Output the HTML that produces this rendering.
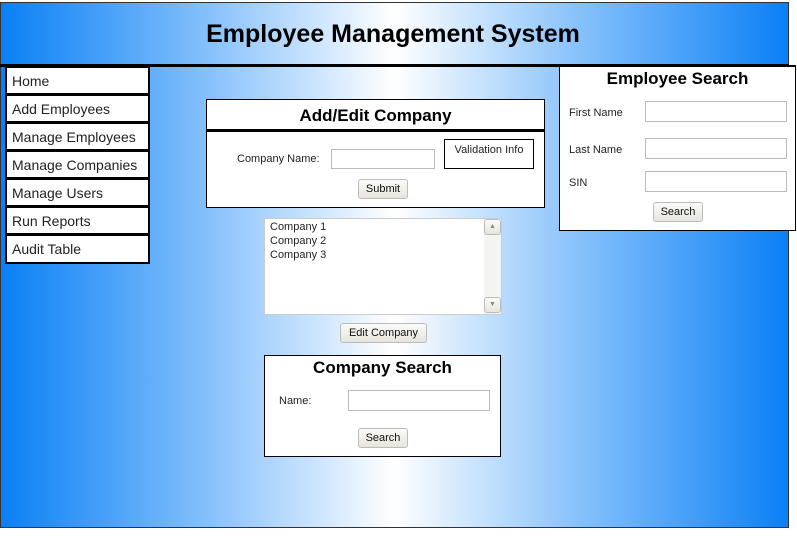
<!DOCTYPE html>
<html><head><style>
*{box-sizing:border-box;margin:0;padding:0}
body{width:797px;height:538px;background:#fff;position:relative;overflow:hidden;font-family:"Liberation Sans",Arial,sans-serif;}
.a{position:absolute}
#bg{left:0;top:2px;width:789px;height:526px;border:1px solid #333;background:linear-gradient(to right,#0a80f5 0%,#7fbdfb 25%,#fff 50%,#7fbdfb 75%,#0a80f5 100%);}
h1{position:absolute;left:0;width:786px;top:20px;text-align:center;font-family:"Liberation Sans",sans-serif;font-weight:bold;font-size:25px;color:#000}
.line{left:0;top:64px;width:789px;height:3px;background:#000}
.nav{left:5px;top:66px;width:145px;height:198px;border:2px solid #000;background:#fff}
.nav div{height:28px;border-bottom:3px solid #000;font-size:14px;padding:5px 0 0 5px;color:#222}
.nav div:last-child{border-bottom:none}
.box{background:#fff;border:1px solid #000}
.t{font-family:"Liberation Sans",sans-serif;font-weight:bold;font-size:17px;text-align:center;color:#000}
.lbl{font-size:11px;color:#222}
.in{background:#fff;border:1px solid #bbb}
.btn{border:1px solid #bbb;border-radius:3px;background:linear-gradient(#fbfbf8,#e6e4dc);font-size:11px;text-align:center;color:#111;line-height:18px}
</style></head><body>
<div class="a" id="bg"></div>
<h1>Employee Management System</h1>
<div class="a line"></div>
<div class="a nav"><div>Home</div><div>Add Employees</div><div>Manage Employees</div><div>Manage Companies</div><div>Manage Users</div><div>Run Reports</div><div>Audit Table</div></div>

<div class="a box" style="left:206px;top:99px;width:339px;height:109px"></div>
<div class="a t" style="left:206px;top:106px;width:339px">Add/Edit Company</div>
<div class="a" style="left:206px;top:129px;width:339px;height:3px;background:#000"></div>
<div class="a lbl" style="left:237px;top:153px">Company Name:</div>
<div class="a in" style="left:331px;top:149px;width:104px;height:20px"></div>
<div class="a" style="left:444px;top:139px;width:90px;height:30px;border:1px solid #000;background:#fff;font-size:11px;text-align:center;padding-top:4px;color:#222">Validation Info</div>
<div class="a btn" style="left:358px;top:179px;width:50px;height:20px">Submit</div>

<div class="a" style="left:264px;top:218px;width:238px;height:97px;background:#fff;border:1px solid #ccc"></div>
<div class="a" style="left:484px;top:219px;width:17px;height:95px;background:#f4f4f2"></div>
<div class="a btn" style="left:484px;top:219px;width:17px;height:16px;font-size:7px;color:#888;line-height:14px">▲</div>
<div class="a btn" style="left:484px;top:297px;width:17px;height:16px;font-size:7px;color:#888;line-height:14px">▼</div>
<div class="a lbl" style="left:270px;top:220px;line-height:14px">Company 1<br>Company 2<br>Company 3</div>
<div class="a btn" style="left:340px;top:323px;width:87px;height:20px">Edit Company</div>

<div class="a box" style="left:264px;top:355px;width:237px;height:102px"></div>
<div class="a t" style="left:264px;top:358px;width:237px">Company Search</div>
<div class="a lbl" style="left:279px;top:395px">Name:</div>
<div class="a in" style="left:348px;top:390px;width:142px;height:21px"></div>
<div class="a btn" style="left:358px;top:428px;width:50px;height:20px">Search</div>

<div class="a box" style="left:559px;top:65px;width:237px;height:166px;border-top:2px solid #000"></div>
<div class="a t" style="left:559px;top:69px;width:237px">Employee Search</div>
<div class="a lbl" style="left:569px;top:107px">First Name</div>
<div class="a lbl" style="left:569px;top:144px">Last Name</div>
<div class="a lbl" style="left:569px;top:177px">SIN</div>
<div class="a in" style="left:645px;top:101px;width:142px;height:21px"></div>
<div class="a in" style="left:645px;top:138px;width:142px;height:21px"></div>
<div class="a in" style="left:645px;top:171px;width:142px;height:21px"></div>
<div class="a btn" style="left:653px;top:202px;width:50px;height:20px">Search</div>
</body></html>
